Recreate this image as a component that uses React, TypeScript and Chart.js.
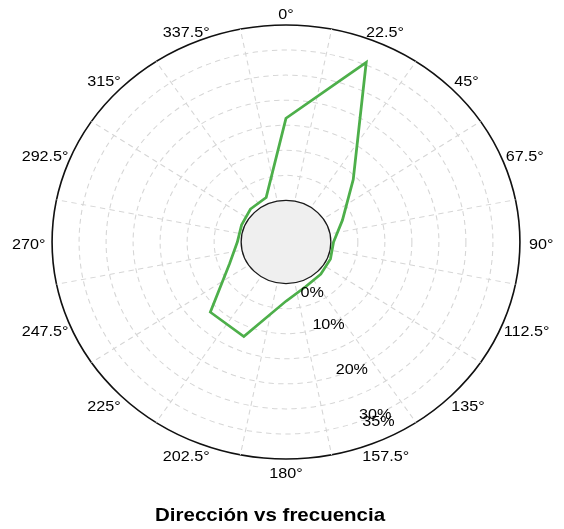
import React, { useEffect, useRef } from 'react';
import { Chart, registerables } from 'chart.js';

Chart.register(...registerables);

// ---- data ----
const directions = ['0°', '22.5°', '45°', '67.5°', '90°', '112.5°', '135°', '157.5°', '180°', '202.5°', '225°', '247.5°', '270°', '292.5°', '315°', '337.5°'];
const frequency = [16.4, 30.5, 9.3, 3.0, 0.5, 0.6, 0.8, 1.3, 3.5, 12.1, 11.5, 3.0, 0.7, 0.6, 1.0, 1.3];
const gridValues = [0, 5, 10, 15, 20, 25, 30, 35];
const tickLabelValues = [0, 10, 20, 30, 35];
const tickLabels = ['0%', '10%', '20%', '30%', '35%'];
const radialMin = -8.3;
const radialMax = 35;
const titleText = 'Dirección vs frecuencia';

// ---- style ----
const STRETCH = 1.078; // the reference rose is horizontally stretched (elliptical)
const FONT = '"Liberation Sans", Arial, Helvetica, sans-serif';
const TICK_LABEL_ANGLE = 154.5; // degrees clockwise from north
const TITLE_SHIFT = -14.8;

const polarDecor = {
  id: 'polarDecor',
  afterLayout(chart: any) {
    const t = chart.titleBlock;
    if (t) {
      t.left += TITLE_SHIFT;
      t.right += TITLE_SHIFT;
    }
  },
  beforeDraw(chart: any) {
    const s = chart.scales.r;
    const ctx = chart.ctx;
    ctx.save();
    ctx.translate(s.xCenter, 0);
    ctx.scale(STRETCH, 1);
    ctx.translate(-s.xCenter, 0);
  },
  beforeDatasetsDraw(chart: any) {
    const s = chart.scales.r;
    const ctx = chart.ctx;
    const cx = s.xCenter;
    const cy = s.yCenter;
    const rOuter = s.getDistanceFromCenterForValue(radialMax);
    const rInner = s.getDistanceFromCenterForValue(0);
    const n = directions.length;
    ctx.save();
    // sector boundary spokes (half a step off the labelled directions)
    ctx.strokeStyle = '#d6d6d6';
    ctx.lineWidth = 1;
    ctx.setLineDash([5, 4]);
    for (let i = 0; i < n; i++) {
      const a = ((i + 0.5) * 2 * Math.PI) / n;
      ctx.beginPath();
      ctx.moveTo(cx, cy);
      ctx.lineTo(cx + rOuter * Math.sin(a), cy - rOuter * Math.cos(a));
      ctx.stroke();
    }
    ctx.setLineDash([]);
    // central grey disc at 0 %
    ctx.beginPath();
    ctx.arc(cx, cy, rInner, 0, 2 * Math.PI);
    ctx.fillStyle = '#efefef';
    ctx.fill();
    ctx.strokeStyle = '#1a1a1a';
    ctx.lineWidth = 1.2;
    ctx.stroke();
    ctx.restore();
  },
  afterDatasetsDraw(chart: any) {
    const s = chart.scales.r;
    const ctx = chart.ctx;
    const cx = s.xCenter;
    const cy = s.yCenter;
    ctx.save();
    ctx.font = `15px ${FONT}`;
    ctx.fillStyle = '#000';
    ctx.textAlign = 'center';
    ctx.textBaseline = 'middle';

    // direction labels, centred near their rays
    const labels: string[] = chart.data.labels;
    const n = labels.length;
    const dA = s.drawingArea;
    labels.forEach((lab, i) => {
      const a = (i * 2 * Math.PI) / n;
      const w = ctx.measureText(lab).width;
      const x = cx + Math.sin(a) * (dA + 14 + 0.25 * w);
      const y = cy - Math.cos(a) * (dA + 12.5) + 2.5;
      ctx.fillText(lab, x, y);
    });

    // percentage labels along one ray
    const a = (TICK_LABEL_ANGLE * Math.PI) / 180;
    const dMin = s.getDistanceFromCenterForValue(0) + 15;
    const dMax = s.getDistanceFromCenterForValue(radialMax) - 18;
    tickLabelValues.forEach((v, i) => {
      let d = s.getDistanceFromCenterForValue(v);
      d = Math.min(Math.max(d, dMin), dMax);
      ctx.fillText(tickLabels[i], cx + d * Math.sin(a), cy - d * Math.cos(a));
    });
    ctx.restore();
  },
  afterDraw(chart: any) {
    chart.ctx.restore();
  },
};

export default function App() {
  const ref = useRef<HTMLCanvasElement>(null);

  useEffect(() => {
    const canvas = ref.current;
    if (!canvas) return;
    const chart = new Chart(canvas, {
      type: 'radar',
      data: {
        labels: directions,
        datasets: [
          {
            label: 'Frecuencia (%)',
            data: frequency,
            borderColor: '#4daf4a',
            borderWidth: 2.6,
            fill: false,
            pointRadius: 0,
            pointHoverRadius: 0,
            tension: 0,
            borderJoinStyle: 'miter',
          },
        ],
      },
      options: {
        responsive: false,
        animation: false,
        devicePixelRatio: 1,
        layout: { padding: { left: 8, right: 0, top: 25, bottom: 0 } },
        plugins: {
          legend: { display: false },
          tooltip: { enabled: false },
          title: {
            display: true,
            text: titleText,
            position: 'bottom',
            align: 'center',
            color: '#000',
            font: { family: FONT, size: 19, weight: 'bold', lineHeight: 1.2 },
            padding: { top: 45.2, bottom: 2 },
          },
        },
        scales: {
          r: {
            min: radialMin,
            max: radialMax,
            startAngle: 0,
            afterBuildTicks: (scale: any) => {
              scale.ticks = gridValues.map((v) => ({ value: v }));
            },
            ticks: { display: false },
            grid: {
              circular: true,
              color: (c: any) => (c.tick && c.tick.value === radialMax ? '#111' : '#d6d6d6'),
              lineWidth: (c: any) => (c.tick && c.tick.value === radialMax ? 1.5 : 1),
            },
            border: {
              dash: (c: any) => (c.tick && c.tick.value === radialMax ? [] : [5, 4]),
            },
            angleLines: { display: false },
            pointLabels: { display: false },
          },
        },
      },
      plugins: [polarDecor],
    } as any);
    return () => chart.destroy();
  }, []);

  return (
    <canvas
      ref={ref}
      width={564}
      height={529}
      style={{ position: 'fixed', left: 0, top: 0, width: '564px', height: '529px' }}
    />
  );
}
